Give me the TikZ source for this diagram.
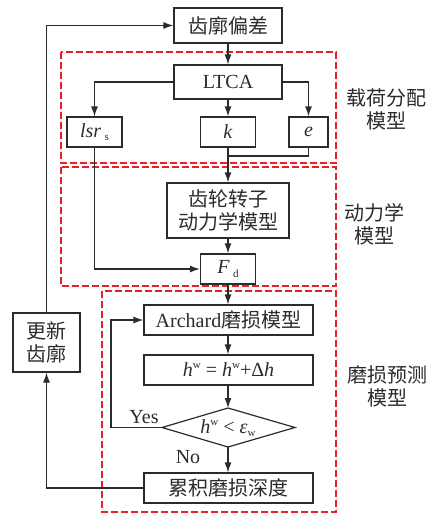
\documentclass[tikz,border=0pt]{standalone}
\usepackage{fontspec}
\setmainfont{Liberation Serif}
\newfontfamily\cjk{Noto Sans CJK SC}
\usetikzlibrary{arrows.meta,shapes.geometric}
\definecolor{linec}{HTML}{2B2B2B}
\definecolor{redc}{HTML}{E8202A}
\newcommand{\lowsub}[1]{\raisebox{-3.5pt}{\fontsize{11}{11}\selectfont\upshape #1}}
\newcommand{\highsup}[1]{\raisebox{8pt}{\fontsize{11}{11}\selectfont\upshape #1}}
\begin{document}
\begin{tikzpicture}[x=1pt,y=-1pt,
  font=\fontsize{20}{23}\selectfont, text=linec,
  box/.style={draw=linec, line width=1.2pt, inner sep=0pt, align=center},
  region/.style={draw=redc, dash pattern=on 7pt off 3pt, line width=1.3pt},
  arr/.style={draw=linec, line width=1.2pt, -{Latex[length=10pt,width=7pt]}},
  ln/.style={draw=linec, line width=1.2pt},
  lab/.style={align=center, inner sep=0pt}]
\useasboundingbox (0,0) rectangle (433,515);
% regions
\draw[region] (61,52) rectangle (336,163);
\draw[region] (61,167) rectangle (336,286);
\draw[region] (102,291) rectangle (336,512);
% nodes
\node[box, minimum width=108pt, minimum height=35pt] (dev) at (228,25.5) {\cjk 齿廓偏差};
\node[box, minimum width=108pt, minimum height=34pt] (ltca) at (228,82) {LTCA};
\node[box, minimum width=55pt, minimum height=30pt] (lsr) at (94.5,132) {\textit{lsr}\,\lowsub{s}};
\node[box, minimum width=55pt, minimum height=30pt] (k) at (228,132) {\textit{k}};
\node[box, minimum width=39pt, minimum height=30pt] (e) at (308.5,132) {\textit{e}};
\node[box, minimum width=122pt, minimum height=55pt] (gear) at (228,210.5) {\cjk 齿轮转子\\\cjk 动力学模型};
\node[box, minimum width=55pt, minimum height=30pt] (fd) at (228,269) {\textit{F}\,\lowsub{d}};
\node[box, minimum width=169pt, minimum height=30pt] (arch) at (228.5,320) {Archard{\cjk 磨损模型}};
\node[box, minimum width=169pt, minimum height=30pt] (hw) at (228.5,370) {\textit{h}\highsup{w} = \textit{h}\highsup{w}+Δ\textit{h}};
\node[box, minimum width=169pt, minimum height=30pt] (acc) at (228.5,488) {\cjk 累积磨损深度};
\node[box, minimum width=67pt, minimum height=59pt] (upd) at (46.5,342.5) {\cjk 更新\\\cjk 齿廓};
% diamond
\coordinate (dN) at (228,408);
\coordinate (dS) at (228,447);
\coordinate (dW) at (162,427.5);
\coordinate (dE) at (295,427.5);
\draw[ln, line join=miter] (dN) -- (dE) -- (dS) -- (dW) -- cycle;
\node[lab] (cond) at (228,428) {\textit{h}\highsup{w} < \textit{ε}\lowsub{w}};
% labels
\node[lab] (l1) at (386,109) {\cjk 载荷分配\\\cjk 模型};
\node[lab] (l2) at (374,224) {\cjk 动力学\\\cjk 模型};
\node[lab] (l3) at (387,386) {\cjk 磨损预测\\\cjk 模型};
\node[lab] (yes) at (144,417) {Yes};
\node[lab] (no) at (188,457) {No};
% connectors
\draw[arr] (upd.north) |- (dev.west);
\draw[arr] (dev.south) -- (ltca.north);
\draw[arr] (ltca.west) -| (lsr.north);
\draw[arr] (ltca.south) -- (k.north);
\draw[arr] (ltca.east) -| (e.north);
\coordinate (join) at (228,156);
\draw[ln] (e.south) |- (join);
\draw[arr] (k.south) -- (gear.north);
\draw[arr] (lsr.south) |- (fd.west);
\draw[arr] (gear.south) -- (fd.north);
\draw[arr] (fd.south) -- (fd.south |- arch.north);
\draw[arr] (arch.south -| dN) -- (hw.north -| dN);
\draw[arr] (hw.south -| dN) -- (dN);
\coordinate (yc) at (111,427.5);
\draw[arr] (dW) -- (yc) |- (arch.west);
\draw[arr] (dS) -- (dS |- acc.north);
\draw[arr] (acc.west) -| (upd.south);
\end{tikzpicture}
\end{document}
